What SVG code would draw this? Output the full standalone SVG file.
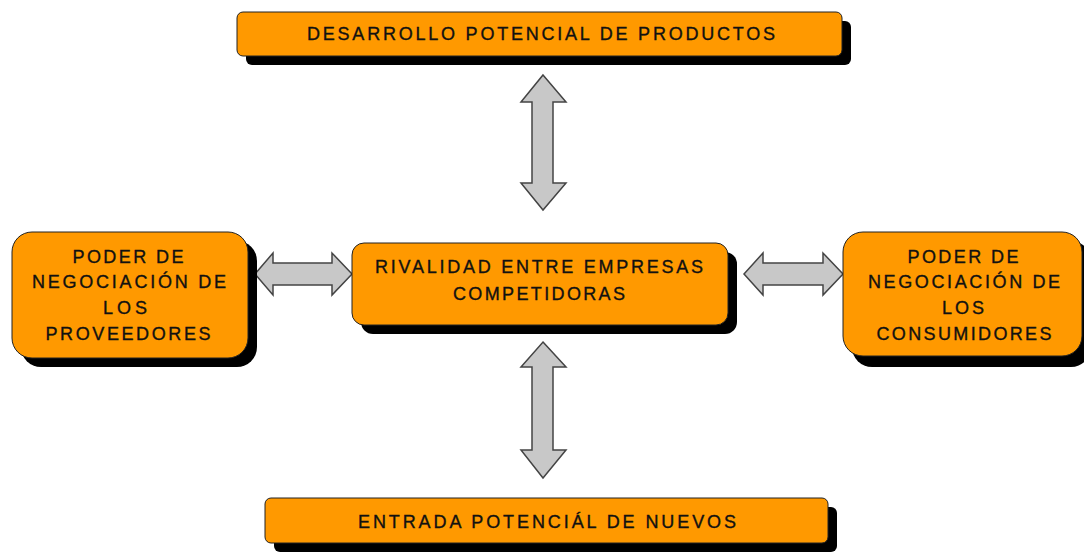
<svg xmlns="http://www.w3.org/2000/svg" width="1084" height="552" viewBox="0 0 1084 552">
<style>
.box{fill:#FF9900;stroke:#222;stroke-width:1}
.sh{fill:#000}
.arr{fill:#C8C8C8;stroke:#444;stroke-width:1.5;stroke-linejoin:miter}
text{font-family:"Liberation Sans",Arial,sans-serif;font-size:18px;fill:#111;stroke:#111;stroke-width:0.35;text-anchor:middle}
</style>
<rect width="1084" height="552" fill="#fff"/>
<g id="connectors">
<path class="arr" d="M543,75 L566,102 L553,102 L553,183 L566,183 L543,210 L521,183 L532,183 L532,102 L521,102 Z"/>
<path class="arr" d="M543,342 L566,367 L553,367 L553,450 L566,450 L543,478 L521,450 L532,450 L532,367 L521,367 Z"/>
<path class="arr" d="M255,274 L273,253 L273,263 L332,263 L332,253 L352,274 L332,295 L332,285 L273,285 L273,295 Z"/>
<path class="arr" d="M744,274 L763,253 L763,263 L823,263 L823,253 L843,274 L823,295 L823,285 L763,285 L763,295 Z"/>
</g>
<g id="top">
<rect class="sh" x="246" y="21" width="605" height="44" rx="6"/>
<rect class="box" x="237" y="12" width="605" height="44" rx="6"/>
<text x="541" y="39.5" textLength="468" lengthAdjust="spacing">DESARROLLO POTENCIAL DE PRODUCTOS</text>
</g>
<g id="left">
<rect class="sh" x="21" y="241" width="236" height="126" rx="20"/>
<rect class="box" x="12" y="232" width="236" height="126" rx="20"/>
<text x="128" y="263" textLength="111" lengthAdjust="spacing">PODER DE</text>
<text x="129" y="288" textLength="194" lengthAdjust="spacing">NEGOCIACIÓN DE</text>
<text x="125" y="314" textLength="44" lengthAdjust="spacing">LOS</text>
<text x="128" y="340" textLength="165" lengthAdjust="spacing">PROVEEDORES</text>
</g>
<g id="center">
<rect class="sh" x="361" y="252" width="376" height="82" rx="12"/>
<rect class="box" x="352" y="243" width="376" height="82" rx="12"/>
<text x="539" y="273" textLength="328" lengthAdjust="spacing">RIVALIDAD ENTRE EMPRESAS</text>
<text x="539" y="300" textLength="172" lengthAdjust="spacing">COMPETIDORAS</text>
</g>
<g id="right">
<rect class="sh" x="852" y="241" width="239" height="126" rx="20"/>
<rect class="box" x="843" y="232" width="239" height="124" rx="20"/>
<text x="963" y="263" textLength="111" lengthAdjust="spacing">PODER DE</text>
<text x="964" y="288" textLength="192" lengthAdjust="spacing">NEGOCIACIÓN DE</text>
<text x="963" y="314" textLength="42" lengthAdjust="spacing">LOS</text>
<text x="964" y="340" textLength="175" lengthAdjust="spacing">CONSUMIDORES</text>
</g>
<g id="bottom">
<rect class="sh" x="274" y="507" width="563" height="45" rx="6"/>
<rect class="box" x="265" y="498" width="563" height="45" rx="6"/>
<text x="547" y="528" textLength="378" lengthAdjust="spacing">ENTRADA POTENCIÁL DE NUEVOS</text>
</g>
</svg>
